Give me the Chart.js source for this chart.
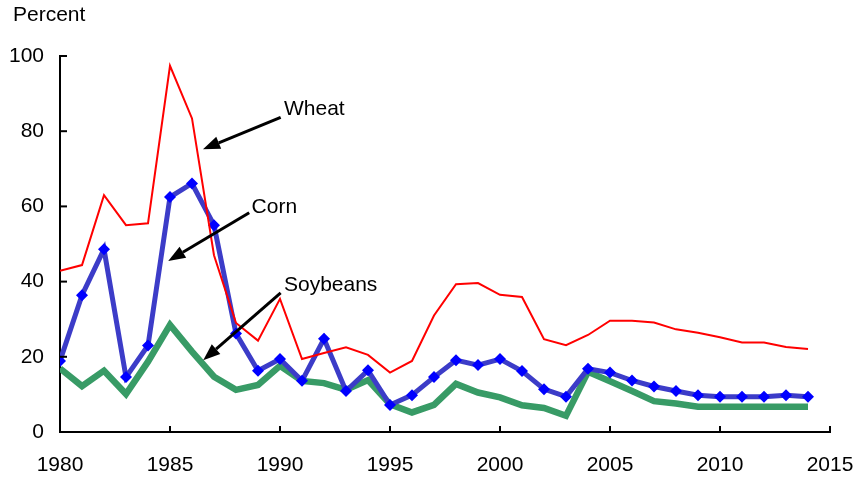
<!DOCTYPE html>
<html>
<head>
<meta charset="utf-8">
<script src="https://cdn.jsdelivr.net/npm/chart.js@4/dist/chart.umd.min.js"></script>
<style>
  body { margin: 0; background: #fff; }
  #wrap { width: 857px; height: 479px; }
</style>
</head>
<body>
<div id="wrap"><canvas id="cropChart"></canvas></div>
<script>
// values, percent
var years = [1980, 1981, 1982, 1983, 1984, 1985, 1986, 1987, 1988, 1989,
             1990, 1991, 1992, 1993, 1994, 1995, 1996, 1997, 1998, 1999,
             2000, 2001, 2002, 2003, 2004, 2005, 2006, 2007, 2008, 2009,
             2010, 2011, 2012, 2013, 2014];
var wheat = [42.9, 44.4, 63.0, 55.0, 55.5, 97.4, 83.4, 47.0, 29.0, 24.3,
             35.4, 19.4, 21.0, 22.5, 20.5, 15.8, 18.9, 31.0, 39.3, 39.6,
             36.5, 35.9, 24.7, 23.1, 25.8, 29.6, 29.6, 29.1, 27.3, 26.4,
             25.2, 23.8, 23.8, 22.6, 22.1];
var corn = [18.9, 36.4, 48.6, 14.6, 23.0, 62.5, 66.1, 55.0, 26.2, 16.3,
            19.4, 13.6, 24.8, 10.9, 16.4, 7.2, 9.8, 14.6, 19.1, 17.8,
            19.4, 16.2, 11.4, 9.4, 16.8, 15.8, 13.7, 12.1, 10.9, 9.8,
            9.4, 9.4, 9.4, 9.8, 9.4];
var soybeans = [16.9, 12.2, 16.3, 10.1, 18.7, 28.5, 21.4, 14.7, 11.2, 12.5,
                17.6, 13.6, 13.0, 11.2, 13.8, 7.4, 5.2, 7.2, 12.8, 10.5,
                9.2, 7.1, 6.4, 4.3, 16.0, 13.5, 10.9, 8.2, 7.6, 6.7,
                6.7, 6.7, 6.7, 6.7, 6.7];
var yTicks = [0, 20, 40, 60, 80, 100];
var xTicks = [1980, 1985, 1990, 1995, 2000, 2005, 2010, 2015];

function pairs(vals) {
    return years.map(function (yr, i) { return { x: yr, y: vals[i] }; });
}

Chart.defaults.font.family = '"Liberation Sans", Arial, sans-serif';
Chart.defaults.font.size = 21;
Chart.defaults.color = '#000';

// labels with arrows, given in data units (year, percent)
var notes = [
    { text: 'Wheat',    at: [1990.18, 85.9], from: [1990.03, 83.7], to: [1986.5, 75.2] },
    { text: 'Corn',     at: [1988.71, 59.7], from: [1988.6, 58.3],  to: [1984.92, 45.5] },
    { text: 'Soybeans', at: [1990.18, 39.1], from: [1990.03, 37.0], to: [1986.51, 19.1] }
];

var extras = {
    id: 'extras',
    afterDraw: function (chart) {
        var ctx = chart.ctx, xs = chart.scales.x, ys = chart.scales.y;
        var left = xs.left, bottom = ys.bottom;
        ctx.save();
        ctx.strokeStyle = '#000';
        ctx.lineWidth = 2;
        // inward tick marks
        yTicks.forEach(function (v) {
            var py = ys.getPixelForValue(v);
            ctx.beginPath(); ctx.moveTo(left, py); ctx.lineTo(left + 7, py); ctx.stroke();
        });
        xTicks.forEach(function (v) {
            var px = xs.getPixelForValue(v);
            ctx.beginPath(); ctx.moveTo(px, bottom); ctx.lineTo(px, bottom - 6); ctx.stroke();
        });
        // title
        ctx.fillStyle = '#000';
        ctx.font = '21px "Liberation Sans", Arial, sans-serif';
        ctx.textAlign = 'left';
        ctx.textBaseline = 'middle';
        ctx.fillText('Percent', 13, 15);
        // annotations
        notes.forEach(function (n) {
            ctx.fillText(n.text, xs.getPixelForValue(n.at[0]), ys.getPixelForValue(n.at[1]));
            var x0 = xs.getPixelForValue(n.from[0]), y0 = ys.getPixelForValue(n.from[1]);
            var x1 = xs.getPixelForValue(n.to[0]), y1 = ys.getPixelForValue(n.to[1]);
            var ang = Math.atan2(y1 - y0, x1 - x0), len = 17, hw = 6.5;
            var bx = x1 - len * Math.cos(ang), by = y1 - len * Math.sin(ang);
            ctx.lineWidth = 3;
            ctx.beginPath(); ctx.moveTo(x0, y0); ctx.lineTo(bx, by); ctx.stroke();
            ctx.beginPath();
            ctx.moveTo(x1, y1);
            ctx.lineTo(bx + hw * Math.sin(ang), by - hw * Math.cos(ang));
            ctx.lineTo(bx - hw * Math.sin(ang), by + hw * Math.cos(ang));
            ctx.closePath();
            ctx.fill();
        });
        ctx.restore();
    }
};

var ctx = document.getElementById('cropChart').getContext('2d');
var cropChart = new Chart(ctx, {
    type: 'line',
    data: {
        datasets: [{
            label: 'Wheat',
            data: pairs(wheat),
            borderColor: '#ff0000',
            borderWidth: 2,
            pointRadius: 0,
            order: 1
        }, {
            label: 'Corn',
            data: pairs(corn),
            borderColor: '#3c3cc8',
            borderWidth: 5,
            pointStyle: 'rectRot',
            pointRadius: 6,
            pointBackgroundColor: '#0000ff',
            pointBorderWidth: 0,
            order: 2
        }, {
            label: 'Soybeans',
            data: pairs(soybeans),
            borderColor: '#389b66',
            borderWidth: 6.5,
            pointRadius: 0,
            order: 3
        }]
    },
    options: {
        responsive: true,
        maintainAspectRatio: false,
        animation: false,
        layout: { padding: { top: 56, right: 27, left: 0, bottom: 0 } },
        plugins: { legend: { display: false }, tooltip: { enabled: false } },
        scales: {
            x: {
                type: 'linear',
                min: 1980,
                max: 2015,
                afterFit: function (s) {
                    s.height = 47;
                    s.paddingLeft = 0;
                    s.paddingRight = 0;
                },
                grid: { display: true, drawOnChartArea: false, drawTicks: false },
                border: { color: '#000', width: 2 },
                ticks: {
                    stepSize: 5,
                    padding: 21,
                    maxRotation: 0,
                    callback: function (v) { return String(v); }
                }
            },
            y: {
                min: 0,
                max: 100,
                afterFit: function (s) { s.width = 60; },
                grid: { display: true, drawOnChartArea: false, drawTicks: false },
                border: { color: '#000', width: 2 },
                ticks: { stepSize: 20, padding: 16 }
            }
        }
    },
    plugins: [extras]
});
</script>
</body>
</html>
